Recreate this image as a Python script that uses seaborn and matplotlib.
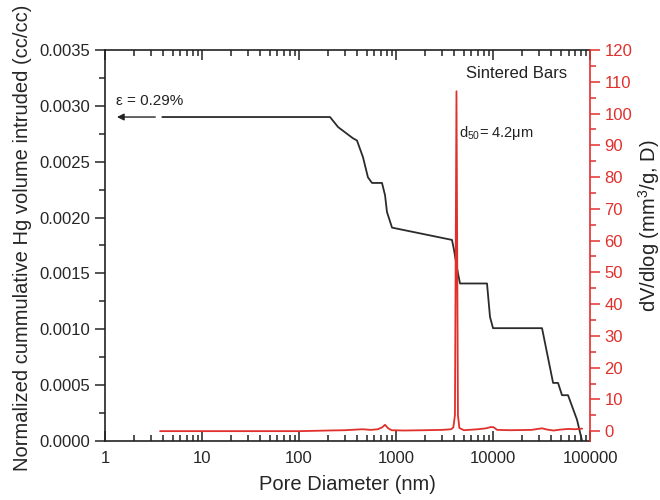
import numpy as np
import pandas as pd
import matplotlib
matplotlib.use("Agg")
import matplotlib.pyplot as plt
from matplotlib.ticker import FixedLocator, MultipleLocator, LogLocator, NullFormatter, FuncFormatter
import seaborn as sns

# ---- data ----
cum_diam = [3.9, 209, 253, 360, 396, 457, 514, 566, 717, 771, 807, 910,
            3777, 3963, 4157, 4357, 4570, 8670, 9310, 10000, 32000,
            41600, 46800, 51400, 59300, 73400, 82800]
cum_vol = [0.0029, 0.0029, 0.00281, 0.00271, 0.00269, 0.00254, 0.00236, 0.00231,
           0.00231, 0.00220, 0.00205, 0.00191, 0.00180, 0.00171, 0.00160,
           0.00150, 0.00141, 0.00141, 0.00111, 0.00101, 0.00101, 0.00052,
           0.00052, 0.00041, 0.00041, 0.00019, 0.0]

dv_diam = [3.7, 10, 50, 100, 200, 300, 450, 550, 650, 720, 770, 830, 900, 1200,
           2000, 3000, 3700, 3900, 4050, 4200, 4350, 4500, 5000, 7000, 8500, 9500,
           10200, 11000, 15000, 25000, 32000, 36000, 42000, 50000, 60000, 70000, 83000]
dv_val = [0, 0, 0, 0, 0.2, 0.3, 0.6, 0.4, 0.6, 1.2, 2.0, 0.9, 0.3, 0.2,
          0.3, 0.4, 0.6, 1.2, 5, 107, 5, 1.0, 0.3, 0.6, 0.9, 1.3,
          1.2, 0.4, 0.3, 0.4, 0.9, 0.5, 0.2, 0.5, 0.7, 0.6, 0.8]

x_ticks = [1, 10, 100, 1000, 10000, 100000]
x_tick_labels = ["1", "10", "100", "1000", "10000", "100000"]

RED = "#e0302c"
DARK = "#222222"

sns.set_style("ticks")
plt.rcParams["font.family"] = ["Liberation Sans", "DejaVu Sans"]
plt.rcParams["mathtext.fontset"] = "custom"
plt.rcParams["mathtext.rm"] = "Liberation Sans"
plt.rcParams["mathtext.it"] = "Liberation Sans:italic"
plt.rcParams["mathtext.default"] = "regular"

fig = plt.figure(figsize=(6.6, 5.0), dpi=100)
ax = fig.add_axes([0.159, 0.118, 0.735, 0.782])
ax2 = ax.twinx()

df_cum = pd.DataFrame({"d": cum_diam, "v": cum_vol})
df_dv = pd.DataFrame({"d": dv_diam, "v": dv_val})

sns.lineplot(data=df_cum, x="d", y="v", ax=ax, color="#2b2b2b", lw=1.3,
             sort=False, estimator=None)
sns.lineplot(data=df_dv, x="d", y="v", ax=ax2, color=RED, lw=1.3,
             sort=False, estimator=None)

ax.set_xscale("log")
ax.set_xlim(1, 100000)
ax.set_ylim(0, 0.0035)
ax2.set_ylim(-3.1, 120)

ax.xaxis.set_major_locator(FixedLocator(x_ticks))
ax.set_xticklabels(x_tick_labels)
ax.xaxis.set_minor_locator(LogLocator(base=10, subs=np.arange(2, 10)))
ax.xaxis.set_minor_formatter(NullFormatter())
ax.yaxis.set_major_locator(MultipleLocator(0.0005))
ax.yaxis.set_minor_locator(MultipleLocator(0.00025))
ax.yaxis.set_major_formatter(FuncFormatter(lambda v, p: f"{v:.4f}"))
ax2.yaxis.set_major_locator(MultipleLocator(10))
ax2.yaxis.set_minor_locator(MultipleLocator(5))

ax.tick_params(axis="x", which="both", direction="in", top=True, bottom=True,
               labelsize=12, width=1.1, color=DARK)
ax.tick_params(axis="x", which="major", length=7)
ax.tick_params(axis="x", which="minor", length=4)
ax.tick_params(axis="y", which="both", direction="out", labelsize=12, width=1.1)
ax.tick_params(axis="y", which="major", length=7)
ax.tick_params(axis="y", which="minor", length=4)
ax.tick_params(axis="x", pad=7)

ax2.tick_params(axis="y", which="both", direction="out", colors=RED, labelsize=12, width=1.1)
ax2.tick_params(axis="y", which="major", length=7)
ax2.tick_params(axis="y", which="minor", length=4)
ax2.spines["right"].set_color(RED)

for sp in ["left", "bottom", "top"]:
    ax.spines[sp].set_visible(True)
    ax.spines[sp].set_linewidth(1.2)
    ax.spines[sp].set_color(DARK)
ax.spines["right"].set_visible(False)
ax2.spines["right"].set_linewidth(1.2)
for sp in ["left", "bottom", "top"]:
    ax2.spines[sp].set_visible(False)

ax.set_xlabel("Pore Diameter (nm)", fontsize=14.5, labelpad=7)
ax.set_ylabel("Normalized cummulative Hg volume intruded (cc/cc)", fontsize=14.5)
ax.yaxis.set_label_coords(-0.151, 0.52)
ax2.set_ylabel(r"dV/dlog (mm$^3$/g, D)", fontsize=14.5, color=DARK)
ax2.yaxis.set_label_coords(1.094, 0.55)

ax.annotate("", xy=(1.33, 0.0029), xytext=(3.3, 0.0029),
            arrowprops=dict(arrowstyle="-|>", color=DARK, lw=1.0,
                            mutation_scale=10, shrinkA=0, shrinkB=0))
ax.text(1.30, 0.00304, "ε = 0.29%", fontsize=11, ha="left", va="center", color=DARK)
ax.text(57900, 0.00329, "Sintered Bars", fontsize=12, ha="right", va="center", color=DARK)
ax.text(4460, 0.002757, r"d$_{50}$= 4.2μm", fontsize=10.5, ha="left", va="center", color=DARK)

fig.savefig("out.png", dpi=100)
